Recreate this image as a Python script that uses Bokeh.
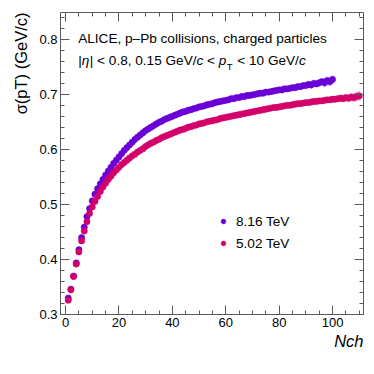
from bokeh.plotting import figure
from bokeh.models import (Range1d, LinearAxis, SingleIntervalTicker, Label, Title,
                          Legend, LegendItem, ColumnDataSource, CustomJSTickFormatter)
from bokeh.embed import file_html
from bokeh.resources import INLINE

# ---------------- data ----------------
nch_816 = list(range(1, 101))
sig_816 = [
    0.330, 0.346, 0.370, 0.394, 0.418, 0.440, 0.459, 0.478, 0.493, 0.507,
    0.519, 0.529, 0.538, 0.546, 0.554, 0.561, 0.568, 0.575, 0.581, 0.587,
    0.593, 0.599, 0.604, 0.609, 0.614, 0.619, 0.623, 0.627, 0.631, 0.635,
    0.638, 0.641, 0.644, 0.647, 0.650, 0.652, 0.655, 0.657, 0.659, 0.661,
    0.663, 0.665, 0.667, 0.669, 0.670, 0.672, 0.673, 0.675, 0.676, 0.678,
    0.679, 0.680, 0.682, 0.683, 0.684, 0.686, 0.687, 0.688, 0.689, 0.690,
    0.691, 0.693, 0.693, 0.695, 0.695, 0.697, 0.697, 0.699, 0.699, 0.700,
    0.701, 0.702, 0.703, 0.703, 0.705, 0.705, 0.706, 0.707, 0.708, 0.709,
    0.709, 0.711, 0.711, 0.712, 0.713, 0.713, 0.715, 0.715, 0.717, 0.717,
    0.719, 0.718, 0.721, 0.720, 0.722, 0.724, 0.722, 0.726, 0.724, 0.728,
]
sys_816 = [
    0.002, 0.002, 0.002, 0.002, 0.002, 0.002, 0.002, 0.002, 0.002, 0.002,
    0.002, 0.002, 0.002, 0.002, 0.002, 0.002, 0.002, 0.002, 0.002, 0.002,
    0.002, 0.002, 0.002, 0.002, 0.002, 0.002, 0.002, 0.002, 0.002, 0.002,
    0.002, 0.002, 0.002, 0.002, 0.002, 0.002, 0.002, 0.002, 0.002, 0.002,
    0.002, 0.002, 0.002, 0.002, 0.002, 0.002, 0.002, 0.002, 0.002, 0.002,
    0.002, 0.002, 0.002, 0.002, 0.002, 0.002, 0.002, 0.002, 0.002, 0.002,
    0.002, 0.002, 0.002, 0.002, 0.002, 0.002, 0.002, 0.002, 0.002, 0.002,
    0.002, 0.002, 0.002, 0.002, 0.002, 0.002, 0.002, 0.002, 0.002, 0.003,
    0.003, 0.003, 0.003, 0.003, 0.004, 0.004, 0.004, 0.004, 0.005, 0.005,
    0.005, 0.006, 0.005, 0.006, 0.007, 0.006, 0.008, 0.007, 0.008, 0.007,
]

nch_502 = list(range(1, 111))
sig_502 = [
    0.326, 0.345, 0.369, 0.392, 0.414, 0.434, 0.452, 0.469, 0.484, 0.496,
    0.506, 0.515, 0.524, 0.532, 0.539, 0.546, 0.552, 0.558, 0.563, 0.568,
    0.573, 0.577, 0.581, 0.585, 0.589, 0.592, 0.596, 0.599, 0.602, 0.606,
    0.609, 0.612, 0.614, 0.617, 0.619, 0.622, 0.624, 0.626, 0.628, 0.630,
    0.632, 0.634, 0.636, 0.637, 0.639, 0.641, 0.642, 0.644, 0.645, 0.647,
    0.648, 0.649, 0.651, 0.652, 0.653, 0.654, 0.655, 0.657, 0.658, 0.659,
    0.660, 0.661, 0.662, 0.663, 0.664, 0.665, 0.666, 0.667, 0.668, 0.669,
    0.670, 0.671, 0.672, 0.673, 0.674, 0.675, 0.676, 0.677, 0.677, 0.678,
    0.679, 0.680, 0.681, 0.681, 0.682, 0.683, 0.684, 0.684, 0.685, 0.686,
    0.686, 0.687, 0.688, 0.688, 0.689, 0.689, 0.690, 0.691, 0.691, 0.692,
    0.692, 0.693, 0.694, 0.693, 0.695, 0.694, 0.696, 0.695, 0.697, 0.698,
]
sys_502 = [
    0.002, 0.002, 0.002, 0.002, 0.002, 0.002, 0.002, 0.002, 0.002, 0.002,
    0.002, 0.002, 0.002, 0.002, 0.002, 0.002, 0.002, 0.002, 0.002, 0.002,
    0.002, 0.002, 0.002, 0.002, 0.002, 0.002, 0.002, 0.002, 0.002, 0.002,
    0.002, 0.002, 0.002, 0.002, 0.002, 0.002, 0.002, 0.002, 0.002, 0.002,
    0.002, 0.002, 0.002, 0.002, 0.002, 0.002, 0.002, 0.002, 0.002, 0.002,
    0.002, 0.002, 0.002, 0.002, 0.002, 0.002, 0.002, 0.002, 0.002, 0.002,
    0.002, 0.002, 0.002, 0.002, 0.002, 0.002, 0.002, 0.002, 0.002, 0.002,
    0.002, 0.002, 0.002, 0.002, 0.002, 0.002, 0.002, 0.002, 0.002, 0.002,
    0.002, 0.002, 0.002, 0.002, 0.002, 0.002, 0.002, 0.002, 0.002, 0.003,
    0.003, 0.003, 0.003, 0.003, 0.004, 0.004, 0.004, 0.004, 0.005, 0.005,
    0.005, 0.005, 0.006, 0.006, 0.007, 0.007, 0.008, 0.008, 0.009, 0.009,
]

labels = ["8.16 TeV", "5.02 TeV"]
colors = ["#6a00d6", "#d4006a"]
y_title = "\u03c3(pT) (GeV/c)"
x_title = "Nch"

x_tick_step = 20
y_tick_step = 0.1

# ---------------- geometry (page pixels) ----------------
X0, X1 = -1.9, 111.6
Y0, Y1 = 0.3, 0.85
FL, FT, FW, FH = 60, 12, 303, 302   # frame of the plot
CW = CH = 374

FONT = "Liberation Sans"
AX_COL = "#5a5a5a"

p = figure(frame_width=FW, frame_height=FH,
           x_range=Range1d(X0, X1), y_range=Range1d(Y0, Y1),
           output_backend="svg", toolbar_location=None,
           min_border_left=FL, min_border_top=FT,
           min_border_right=CW - FL - FW, min_border_bottom=CH - FT - FH,
           background_fill_color="white", border_fill_color="white")
p.outline_line_color = None
p.grid.visible = False


def style_axis(ax, show_labels):
    ax.axis_line_color = AX_COL
    ax.axis_line_width = 1
    ax.major_tick_line_color = AX_COL
    ax.minor_tick_line_color = AX_COL
    ax.major_tick_in = 9
    ax.major_tick_out = 0
    ax.minor_tick_in = 4
    ax.minor_tick_out = 0
    if show_labels:
        ax.major_label_text_font = FONT
        ax.major_label_text_font_size = "13px"
        ax.major_label_text_color = "black"
        ax.major_label_standoff = 3
    else:
        ax.formatter = CustomJSTickFormatter(code="return ''")
        ax.major_label_standoff = 0


p.xaxis.ticker = SingleIntervalTicker(interval=x_tick_step, num_minor_ticks=4)
p.yaxis.ticker = SingleIntervalTicker(interval=y_tick_step, num_minor_ticks=5)
style_axis(p.xaxis[0], True)
style_axis(p.yaxis[0], True)

ax_r = LinearAxis(ticker=SingleIntervalTicker(interval=y_tick_step, num_minor_ticks=5))
ax_t = LinearAxis(ticker=SingleIntervalTicker(interval=x_tick_step, num_minor_ticks=4))
style_axis(ax_r, False)
style_axis(ax_t, False)
p.add_layout(ax_r, "right")
p.add_layout(ax_t, "above")

# axis titles as side-panel titles
p.add_layout(Title(text=y_title, align="right", vertical_align="top",
                   text_font=FONT, text_font_size="16.5px",
                   text_font_style="normal", text_color="black",
                   standoff=10), "left")
p.add_layout(Title(text=x_title, align="right", vertical_align="top",
                   text_font=FONT, text_font_size="16.5px",
                   text_font_style="italic", text_color="black",
                   standoff=4), "below")

# ---------------- data glyphs ----------------
sources = []
for nch, sig, sy, col in [(nch_816, sig_816, sys_816, colors[0]),
                          (nch_502, sig_502, sys_502, colors[1])]:
    src = ColumnDataSource(dict(
        x=nch, y=sig,
        l=[n - 0.5 for n in nch], r=[n + 0.5 for n in nch],
        lo=[s - e for s, e in zip(sig, sy)], hi=[s + e for s, e in zip(sig, sy)]))
    p.quad(left="l", right="r", bottom="lo", top="hi", source=src,
           fill_color=col, fill_alpha=0.28, line_color=None)
    sources.append(src)

glyph_rs = []
for src, col in zip(sources, colors):
    r = p.scatter("x", "y", source=src, marker="circle", size=6.3,
                  fill_color=col, line_color=col, line_width=0.5)
    glyph_rs.append(r)

legend = Legend(items=[LegendItem(label=labels[0], renderers=[glyph_rs[0]]),
                       LegendItem(label=labels[1], renderers=[glyph_rs[1]])],
                location=(157, 62), orientation="vertical",
                glyph_width=12, glyph_height=12, label_height=18, spacing=4,
                label_standoff=7, padding=0, margin=0,
                border_line_alpha=0, background_fill_alpha=0,
                label_text_font=FONT, label_text_font_size="13.6px",
                label_text_color="black")
p.add_layout(legend, "center")

# ---------------- header texts (inside the frame) ----------------
W = {' ': 278, '\u00a0': 278, '(': 333, ')': 333, ',': 278, '-': 333, '.': 278,
     '/': 278, '<': 584, '|': 260, 'A': 667, 'C': 722, 'E': 667, 'G': 778,
     'I': 278, 'L': 556, 'N': 722, 'P': 667, 'T': 611, 'V': 667, 'a': 556,
     'b': 556, 'c': 500, 'd': 556, 'e': 556, 'g': 556, 'h': 556, 'i': 222,
     'l': 222, 'n': 556, 'o': 556, 'p': 556, 'r': 333, 's': 500, 't': 278,
     '\u2013': 556, '\u03b7': 556, '\u03c3': 600}
for d in "0123456789":
    W[d] = 556


def tw(s, size):
    return sum(W.get(ch, 556) for ch in s) / 1000.0 * size


def rich(pieces, X, Y, size):
    """Horizontal pieces; X,Y = page px of the baseline start."""
    pos = 0.0
    for text, italic, scale, shift, gap in pieces:
        fs = size * scale
        p.add_layout(Label(x=X + pos - FL, y=(FT + FH) - (Y + shift),
                           x_units="screen", y_units="screen",
                           text=text.replace(" ", "\u00a0"), text_font=FONT,
                           text_font_size=f"{fs:.1f}px",
                           text_font_style="italic" if italic else "normal",
                           text_align="left", text_baseline="alphabetic",
                           text_color="black"))
        pos += tw(text, fs) + gap


HS = 13.6
rich([("ALICE, p\u2013Pb collisions, charged particles", False, 1, 0, 0)], 77.7, 37.5, HS)
rich([("|", False, 1, 0, 0), ("\u03b7", True, 1, 0, 0.5),
      ("| < 0.8, 0.15 GeV/", False, 1, 0, 0), ("c", True, 1, 0, 0),
      (" < ", False, 1, 0, 0), ("p", True, 1, 0, 0.3),
      ("T", False, 0.7, 6, 1.0), (" < 10 GeV/", False, 1, 0, 0),
      ("c", True, 1, 0, 0)], 77.7, 60, HS)

open("out.html", "w").write(file_html(p, INLINE))
